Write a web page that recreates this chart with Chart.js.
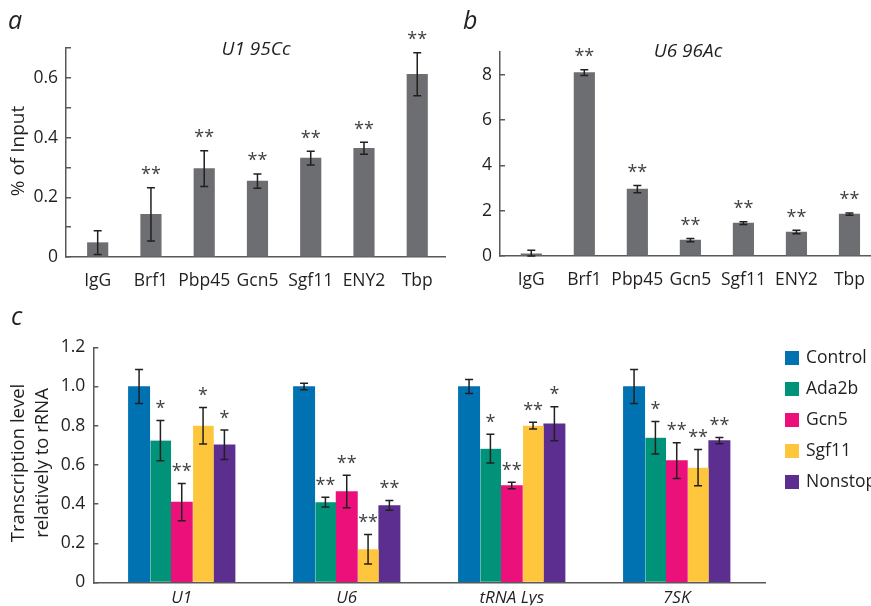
<!DOCTYPE html>
<html><head><meta charset="utf-8">
<script src="https://cdn.jsdelivr.net/npm/chart.js@4"></script>
<style>
body{margin:0;background:#fff;width:871px;height:606px;position:relative;overflow:hidden}
canvas{position:absolute}
</style></head>
<body>
<canvas id="cA" width="446" height="300" style="left:0;top:0"></canvas>
<canvas id="cB" width="425" height="300" style="left:446px;top:0"></canvas>
<canvas id="cC" width="871" height="306" style="left:0;top:300px"></canvas>
<script>
// ---------- data ----------
const catsAB = ['IgG','Brf1','Pbp45','Gcn5','Sgf11','ENY2','Tbp'];
const valsA  = [0.048,0.143,0.296,0.254,0.331,0.364,0.612];
const errsA  = [0.040,0.089,0.060,0.024,0.023,0.020,0.072];
const starsA = ['','**','**','**','**','**','**'];
const yTickValsA = [0,0.1,0.2,0.3,0.4,0.5,0.6,0.7];
const yTickLblsA = ['0','','0.2','','0.4','','0.6',''];

const valsB  = [0.10,8.09,2.95,0.70,1.45,1.06,1.85];
const errsB  = [0.15,0.13,0.16,0.07,0.06,0.08,0.05];
const starsB = ['','**','**','**','**','**','**'];
const yTickValsB = [0,1,2,3,4,5,6,7,8,9];
const yTickLblsB = ['0','','2','','4','','6','','8',''];

const groupsC = ['U1','U6','tRNA Lys','7SK'];
const seriesC = ['Control','Ada2b','Gcn5','Sgf11','Nonstop'];
const colorsC = ['#0072b2','#00937a','#ec107a','#fdc63c','#5b2e8f'];
const control = [1.000,1.000,1.000,1.000];
const ada2b   = [0.724,0.410,0.683,0.739];
const gcn5    = [0.410,0.464,0.495,0.622];
const sgf11   = [0.800,0.170,0.800,0.586];
const nonstop = [0.703,0.393,0.810,0.724];
const errControl = [0.087,0.016,0.036,0.087];
const errAda2b   = [0.103,0.025,0.073,0.083];
const errGcn5    = [0.095,0.083,0.017,0.091];
const errSgf11   = [0.093,0.075,0.017,0.092];
const errNonstop = [0.075,0.025,0.087,0.016];
const starControl = ['','','',''];
const starAda2b   = ['*','**','*','*'];
const starGcn5    = ['**','**','**','**'];
const starSgf11   = ['*','**','**','**'];
const starNonstop = ['*','**','*','**'];
const yTickValsC = [0,0.2,0.4,0.6,0.8,1.0,1.2];
const yTickLblsC = ['0','0.2','0.4','0.6','0.8','1.0','1.2'];

// ---------- style ----------
const FONT = "'Open Sans'";
const TXT = '#231f20';
const AXIS = '#58595b';
Chart.defaults.font.family = FONT;
Chart.defaults.color = TXT;

const errStarPlugin = {
  id: 'errStar',
  afterDatasetsDraw(chart) {
    const ctx = chart.ctx, ys = chart.scales.y;
    chart.data.datasets.forEach((ds, di) => {
      const meta = chart.getDatasetMeta(di);
      meta.data.forEach((bar, i) => {
        const v = ds.data[i].y, e = ds.errs[i];
        const yt = ys.getPixelForValue(v + e);
        const yb = ys.getPixelForValue(Math.max(0, v - e));
        ctx.save();
        ctx.strokeStyle = TXT; ctx.lineWidth = 1.5;
        ctx.beginPath();
        ctx.moveTo(bar.x, yt); ctx.lineTo(bar.x, yb);
        ctx.moveTo(bar.x - 4, yt); ctx.lineTo(bar.x + 4, yt);
        ctx.moveTo(bar.x - 4, yb); ctx.lineTo(bar.x + 4, yb);
        ctx.stroke();
        const s = ds.stars[i];
        if (s) {
          ctx.font = '18px ' + FONT;
          ctx.fillStyle = '#414042';
          ctx.textAlign = 'center'; ctx.textBaseline = 'alphabetic';
          const m = ctx.measureText(s);
          const cy = yt - (chart.options.starGap || 17);
          const base = cy + (m.actualBoundingBoxAscent - m.actualBoundingBoxDescent) / 2;
          ctx.fillText(s, bar.x, base);
        }
        ctx.restore();
      });
    });
  }
};

const textPlugin = {
  id: 'texts',
  afterDraw(chart) {
    const ctx = chart.ctx;
    (chart.options.texts || []).forEach(t => {
      ctx.save();
      ctx.font = t.font; ctx.fillStyle = t.color || TXT;
      ctx.textAlign = t.align || 'left'; ctx.textBaseline = t.base || 'alphabetic';
      ctx.translate(t.x, t.y);
      if (t.rot) ctx.rotate(t.rot);
      ctx.fillText(t.text, 0, 0);
      ctx.restore();
    });
    if (chart.options.drawLegend) {
      chart.data.datasets.forEach((ds, i) => {
        const y = 51 + i * 31;
        ctx.save();
        ctx.fillStyle = ds.backgroundColor;
        ctx.fillRect(785, y, 14, 14);
        ctx.font = '17.5px ' + FONT; ctx.fillStyle = TXT;
        ctx.textAlign = 'left'; ctx.textBaseline = 'middle';
        ctx.fillText(ds.label, 806, y + 7);
        ctx.restore();
      });
    }
  }
};

function xAxis(cats, min, max, height, fontSize, italic, pad) {
  return {
    type: 'linear', min, max, offset: false,
    afterBuildTicks: s => { s.ticks = cats.map((c, i) => ({ value: i })); },
    afterFit: s => { s.height = height; },
    grid: { display: false, offset: false },
    border: { display: true, color: AXIS, width: 1.5 },
    ticks: { autoSkip: false, maxRotation: 0, padding: pad,
      font: { size: fontSize, style: italic ? 'italic' : 'normal' }, color: TXT,
      callback: (v, i) => cats[i] }
  };
}
function yAxis(vals, lbls, min, max, width) {
  return {
    min, max,
    afterBuildTicks: s => { s.ticks = vals.map(v => ({ value: v })); },
    afterFit: s => { s.width = width; },
    grid: { drawOnChartArea: false, drawTicks: true, tickLength: -5, color: AXIS, tickColor: AXIS, lineWidth: 1.5 },
    border: { display: true, color: AXIS, width: 1.5 },
    ticks: { padding: 13, font: { size: 17.5 }, color: TXT, callback: (v, i) => lbls[i] }
  };
}

function simpleChart(id, vals, errs, stars, yv, yl, ymax, xmin, xmax, layoutPad, yW, xH, texts) {
  return new Chart(document.getElementById(id), {
    type: 'bar',
    data: { datasets: [{
      data: vals.map((v, i) => ({ x: i, y: v })),
      errs, stars,
      backgroundColor: '#6d6e71', barThickness: 20.5
    }]},
    options: {
      responsive: false, animation: false,
      layout: { padding: layoutPad },
      plugins: { legend: { display: false }, tooltip: { enabled: false } },
      scales: { x: xAxis(catsAB, xmin, xmax, xH, 17.5, false, 6), y: yAxis(yv, yl, 0, ymax, yW) },
      texts
    },
    plugins: [errStarPlugin, textPlugin]
  });
}

simpleChart('cA', valsA, errsA, starsA, yTickValsA, yTickLblsA, 0.7, -0.595, 6.54,
  { top: 48, left: 0, right: 0, bottom: 0 }, 66, 43, [
    { text: 'a', x: 8, y: 29, font: 'italic 25px ' + FONT },
    { text: 'U1 95Cc', x: 256, y: 50, font: 'italic 19px ' + FONT, align: 'center', base: 'middle' },
    { text: '% of Input', x: 19, y: 151, font: '19px ' + FONT, align: 'center', base: 'middle', rot: -Math.PI / 2 }
  ]);

simpleChart('cB', valsB, errsB, starsB, yTickValsB, yTickLblsB, 9, -0.59, 6.4,
  { top: 52, left: 0, right: 0, bottom: 0 }, 54, 44, [
    { text: 'b', x: 17, y: 29, font: 'italic 25px ' + FONT },
    { text: 'U6 96Ac', x: 242, y: 52, font: 'italic 19px ' + FONT, align: 'center', base: 'middle' }
  ]);

const cData = [control, ada2b, gcn5, sgf11, nonstop];
const cErr = [errControl, errAda2b, errGcn5, errSgf11, errNonstop];
const cStar = [starControl, starAda2b, starGcn5, starSgf11, starNonstop];
new Chart(document.getElementById('cC'), {
  type: 'bar',
  data: { datasets: seriesC.map((name, k) => ({
    label: name,
    data: cData[k].map((v, i) => ({ x: i, y: v })),
    errs: cErr[k], stars: cStar[k],
    backgroundColor: colorsC[k],
    borderColor: '#ffffff',
    borderWidth: (k === 1 || k === 3) ? { left: 1, right: 0, top: 0, bottom: 0 } : 0,
    borderSkipped: false,
    barThickness: 21.33
  }))},
  options: {
    responsive: false, animation: false,
    layout: { padding: { top: 47.3, left: 0, right: 106, bottom: 0 } },
    plugins: { legend: { display: false }, tooltip: { enabled: false } },
    scales: { x: xAxis(groupsC, -0.536, 3.535, 22.7, 17, true, -3), y: yAxis(yTickValsC, yTickLblsC, 0, 1.2, 93.3) },
    starGap: 16,
    drawLegend: true,
    texts: [
      { text: 'c', x: 11, y: 25, font: 'italic 25px ' + FONT },
      { text: 'Transcription level', x: 19, y: 163, font: '18.5px ' + FONT, align: 'center', base: 'middle', rot: -Math.PI / 2 },
      { text: 'relatively to rRNA', x: 43, y: 163, font: '18.5px ' + FONT, align: 'center', base: 'middle', rot: -Math.PI / 2 }
    ]
  },
  plugins: [errStarPlugin, textPlugin]
});
</script>
</body></html>
